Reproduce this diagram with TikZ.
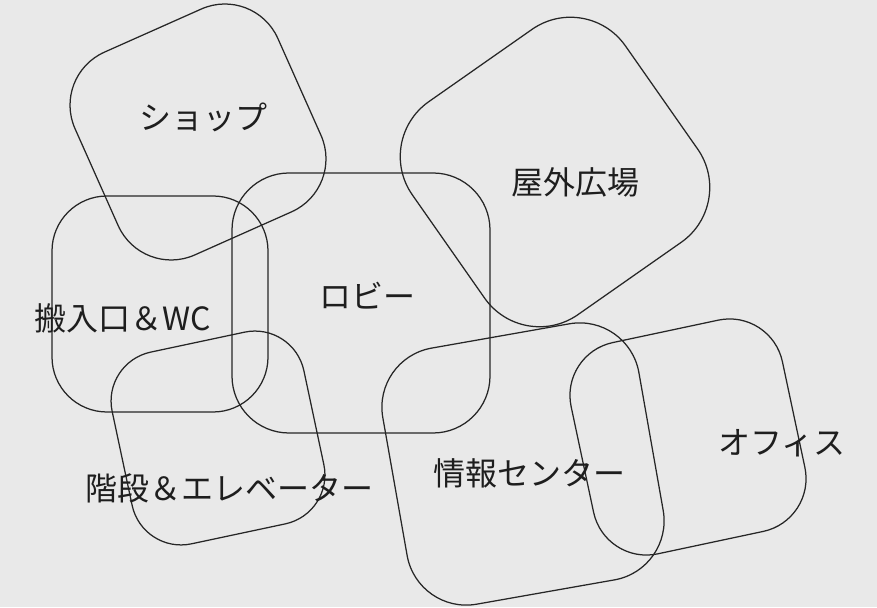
\documentclass[tikz,border=0pt]{standalone}
\usepackage{fontspec}
\setmainfont{Noto Sans CJK JP}
\begin{document}
\begin{tikzpicture}[x=1pt,y=1pt,
  zone/.style={draw=linec, line width=1.25pt, inner sep=0pt, rectangle},
  lbl/.style={text=textc, inner sep=0pt, font=\fontsize{32}{38}\selectfont}]
\definecolor{bgc}{HTML}{E9E9E9}
\definecolor{linec}{HTML}{262626}
\definecolor{textc}{HTML}{1E1E1E}
\fill[bgc] (0,0) rectangle (877,607);
\useasboundingbox (0,0) rectangle (877,607);
% zones
\node[zone, minimum width=222pt, minimum height=222pt, rounded corners=58pt, rotate=24] (shop) at (198,475) {};
\node[zone, minimum width=258pt, minimum height=260pt, rounded corners=57pt] (lobby) at (361,304) {};
\node[zone, minimum width=216pt, minimum height=216pt, rounded corners=55pt] (wc) at (160,303) {};
\node[zone, minimum width=196pt, minimum height=196pt, rounded corners=50pt, rotate=12] (stairs) at (218,169) {};
\node[zone, minimum width=260pt, minimum height=260pt, rounded corners=67pt, rotate=35] (plaza) at (555,435) {};
\node[zone, minimum width=260pt, minimum height=260pt, rounded corners=60pt, rotate=10] (info) at (523,143) {};
\node[zone, minimum width=216pt, minimum height=216pt, rounded corners=54pt, rotate=12] (office) at (688,170) {};
% labels
\node[lbl] (shopt) at (203,490) {ショップ};
\node[lbl] (plazat) at (575,425) {屋外広場};
\node[lbl] (lobbyt) at (367,311) {ロビー};
\node[lbl] (wct) at (123,289) {搬入口＆WC};
\node[lbl] (stairst) at (229,119) {階段＆エレベーター};
\node[lbl] (infot) at (529,134) {情報センター};
\node[lbl] (officet) at (782,164) {オフィス};
\end{tikzpicture}
\end{document}
